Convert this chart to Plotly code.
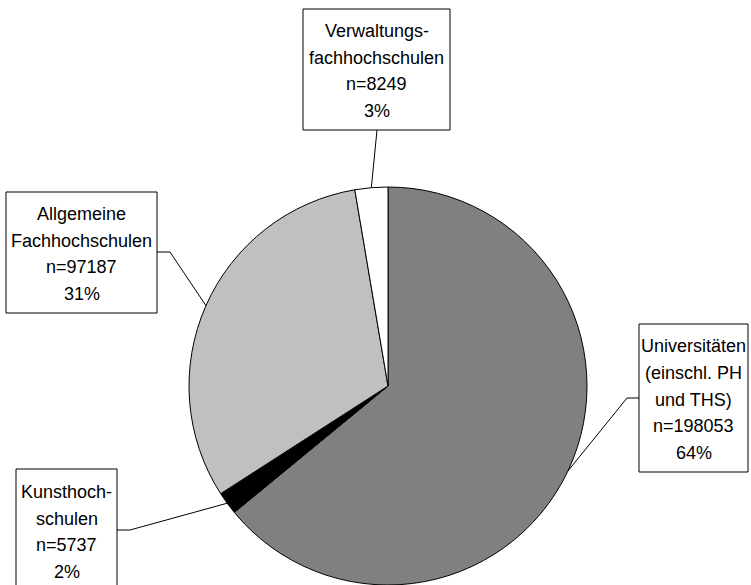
import math
import plotly.graph_objects as go

# ---- data ----
categories = ["Universitäten (einschl. PH und THS)", "Kunsthochschulen",
              "Allgemeine Fachhochschulen", "Verwaltungsfachhochschulen"]
label_lines = [["Universitäten", "(einschl. PH", "und THS)"],
               ["Kunsthoch-", "schulen"],
               ["Allgemeine", "Fachhochschulen"],
               ["Verwaltungs-", "fachhochschulen"]]
values = [198053, 5737, 97187, 8249]
colors = ["#808080", "#000000", "#c0c0c0", "#ffffff"]

# ---- layout geometry (pixels) ----
W, H = 751, 585
CX, CY, R = 388, 386, 199
ML, MT = CX - R, CY - R
MR, MB = W - (CX + R), H - (CY + R)
SIDE = 2 * R

def px(x):
    return (x - ML) / SIDE

def py(y):
    return (H - MB - y) / SIDE

# label boxes (x0, y0, x1, y1), box attach point, elbow point
boxes = [(639, 324, 748, 472), (16, 469, 117, 592), (6, 192, 157, 313), (303, 9, 450, 130)]
attach = [(639, 398), (117, 530), (157, 252), (377, 130)]
elbow = [(627, 398), (130, 530), (170, 252), (377, 130)]
SPACING = 26.8
FONT = dict(family="Liberation Sans, Arial, sans-serif", size=18, color="black")

fig = go.Figure(go.Pie(
    labels=categories, values=values, sort=False, direction="clockwise",
    rotation=0, textinfo="none", hoverinfo="label+value+percent",
    marker=dict(colors=colors, line=dict(color="black", width=1)),
    showlegend=False, domain=dict(x=[0, 1], y=[0, 1]),
))

total = sum(values)
shapes, annots = [], []
cum = 0.0
for i, v in enumerate(values):
    frac = v / total
    mid = (cum + frac / 2) * 2 * math.pi
    cum += frac
    ex = CX + R * math.sin(mid)
    ey = CY - R * math.cos(mid)
    x0, y0, x1, y1 = boxes[i]
    shapes.append(dict(type="rect", xref="paper", yref="paper",
                       x0=px(x0), x1=px(x1), y0=py(y0), y1=py(y1),
                       line=dict(color="black", width=1), fillcolor="white", layer="above"))
    ax, ay = attach[i]
    bx, by = elbow[i]
    shapes.append(dict(type="path", xref="paper", yref="paper",
                       path=f"M {px(ax)} {py(ay)} L {px(bx)} {py(by)} L {px(ex)} {py(ey)}",
                       line=dict(color="black", width=1), layer="above"))
    lines = label_lines[i] + [f"n={v}", f"{round(frac * 100)}%"]
    n = len(lines)
    cxb = (x0 + x1) / 2
    cyb = (y0 + y1) / 2
    for j, t in enumerate(lines):
        ly = cyb + (j - (n - 1) / 2) * SPACING + 1.5
        annots.append(dict(text=t, xref="paper", yref="paper", x=px(cxb), y=py(ly),
                           xanchor="center", yanchor="middle", showarrow=False, font=FONT))

fig.update_layout(
    width=W, height=H, autosize=False,
    margin=dict(l=ML, r=MR, t=MT, b=MB, pad=0),
    paper_bgcolor="white", plot_bgcolor="white",
    shapes=shapes, annotations=annots,
)

fig.write_html("out.html", config={"displayModeBar": False},
               post_script="document.body.style.margin='0';document.body.style.overflow='hidden';")
